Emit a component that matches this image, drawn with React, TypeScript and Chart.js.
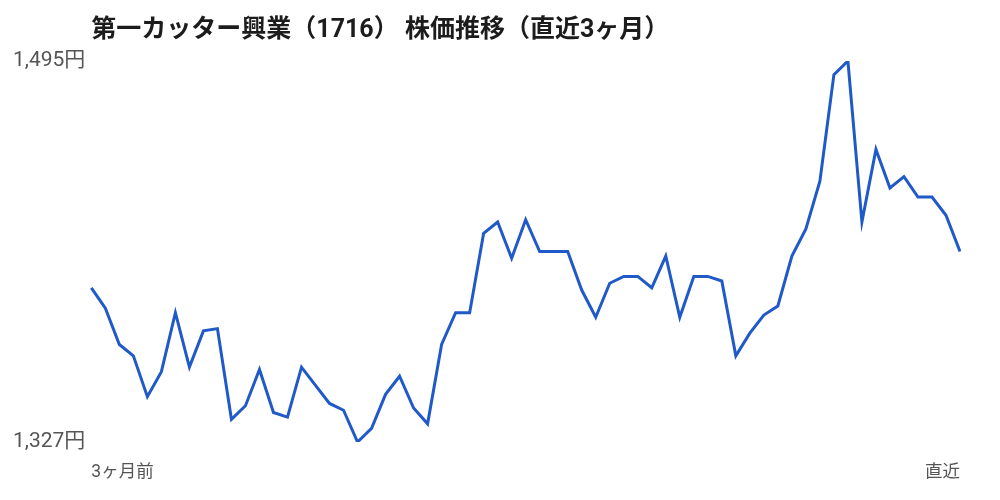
import { useEffect, useRef } from "react";
import { Chart, registerables } from "chart.js";

Chart.register(...registerables);

// 株価（終値, 円）— 3ヶ月前 → 直近
const prices = [
  1395, 1386, 1370, 1365, 1347, 1358, 1384, 1360, 1376, 1377,
  1337, 1343, 1359, 1340, 1338, 1360, 1352, 1344, 1341, 1327,
  1333, 1348, 1356, 1342, 1335, 1370, 1384, 1384, 1419, 1424,
  1408, 1425, 1411, 1411, 1411, 1394, 1382, 1397, 1400, 1400,
  1395, 1409, 1382, 1400, 1400, 1398, 1365, 1375, 1383, 1387,
  1409, 1421, 1442, 1489, 1495, 1424, 1456, 1439, 1444, 1435,
  1435, 1427, 1411,
];
const days = prices.map((_, i) => i);
const xTickLabels = ["3ヶ月前", "直近"];
const yTickValues = [1327, 1495];
const title = "第一カッター興業（1716） 株価推移（直近3ヶ月）";

const FONT = "Roboto, 'Noto Sans CJK JP', sans-serif";

export default function App() {
  const canvasRef = useRef<HTMLCanvasElement>(null);

  useEffect(() => {
    if (!canvasRef.current) return;
    const chart = new Chart(canvasRef.current, {
      type: "line",
      data: {
        labels: days,
        datasets: [
          {
            data: prices,
            borderColor: "#1f5ac8",
            borderWidth: 3,
            pointRadius: 0,
            tension: 0,
            fill: false,
          },
        ],
      },
      options: {
        animation: false,
        responsive: true,
        maintainAspectRatio: false,
        layout: { padding: { left: 7, right: 40, bottom: -3 } },
        plugins: {
          legend: { display: false },
          tooltip: { enabled: false },
          title: {
            display: true,
            text: title,
            align: "start",
            fullSize: false,
            color: "#1c1c1c",
            font: { family: FONT, size: 25, weight: "bold" },
            padding: { top: 16, bottom: 15 },
          },
        },
        scales: {
          x: {
            grid: { display: false, drawTicks: false },
            border: { display: false },
            ticks: {
              autoSkip: false,
              maxRotation: 0,
              align: "inner",
              padding: 20,
              color: "#555",
              font: { family: FONT, size: 17.5 },
              callback: (_v, i) =>
                i === 0 ? xTickLabels[0] : i === days.length - 1 ? xTickLabels[1] : "",
            },
          },
          y: {
            min: yTickValues[0],
            max: yTickValues[1],
            grid: { display: false, drawTicks: false },
            border: { display: false },
            afterBuildTicks: (axis) => {
              axis.ticks = yTickValues.map((value) => ({ value }));
            },
            ticks: {
              padding: 6,
              color: "#555",
              font: { family: FONT, size: 21 },
              callback: (v) => Number(v).toLocaleString("en-US") + "円",
            },
          },
        },
      },
    });
    return () => chart.destroy();
  }, []);

  return (
    <div
      style={{
        position: "fixed",
        left: 0,
        top: 0,
        width: 1000,
        height: 500,
        background: "#fff",
      }}
    >
      <canvas ref={canvasRef} />
    </div>
  );
}
